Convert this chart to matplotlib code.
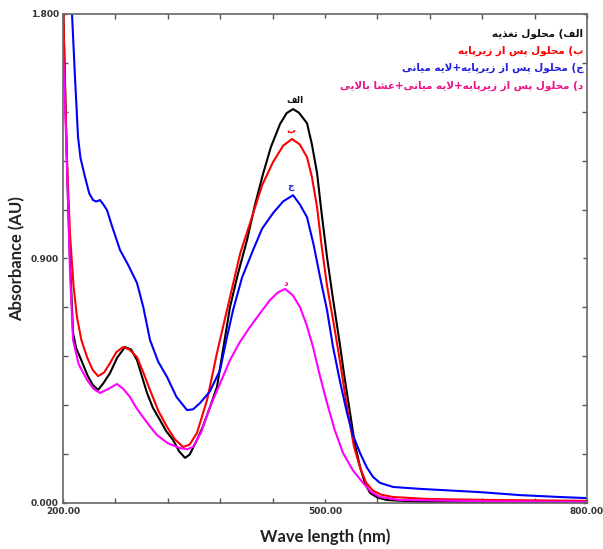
import numpy as np
import matplotlib
matplotlib.use("Agg")
import matplotlib.pyplot as plt
from matplotlib import font_manager
from matplotlib.ft2font import FT2Font

# --- data (wavelength nm, absorbance AU) ---
wl_alef = [200, 203, 205.7, 208, 211.5, 215, 219.5, 228, 234, 240.1, 246, 253.8, 262, 271.0,
           278, 284.7, 290, 296.2, 303, 311.1, 318, 326.0, 333, 339.7, 345, 353.4, 360,
           368.3, 376.3, 384, 391.2, 400, 410.7, 420, 429.0, 438, 448.5, 456, 463.4, 470,
           479.4, 485, 490.9, 496, 502.3, 509.2, 517.2, 522, 528.7, 534, 540.1, 546, 551.6,
           560, 571.0, 608.8, 700, 800]
abs_alef = [1.85, 1.45, 1.115, 0.89, 0.626, 0.57, 0.537, 0.47, 0.435, 0.416, 0.44, 0.478,
            0.535, 0.574, 0.565, 0.526, 0.47, 0.405, 0.35, 0.305, 0.265, 0.232, 0.19, 0.166,
            0.178, 0.232, 0.28, 0.353, 0.427, 0.58, 0.721, 0.84, 0.968, 1.10, 1.211, 1.31,
            1.395, 1.435, 1.450, 1.437, 1.398, 1.32, 1.214, 1.07, 0.905, 0.75, 0.58, 0.47,
            0.331, 0.22, 0.133, 0.07, 0.037, 0.02, 0.011, 0.004, 0.002, 0.001]

wl_be = [200, 204, 208.0, 212, 216.0, 221, 227.5, 234, 240.1, 247, 253.8, 261, 268.7, 276,
         284.7, 292, 299.6, 309, 319.1, 328, 337.4, 345, 353.4, 365, 376.3, 391.2, 403, 414.1,
         428, 440.5, 452, 462.2, 471, 479.4, 485, 490.9, 496, 502.3, 510, 517.2, 522, 526.4,
         533, 540.1, 547, 555.0, 565, 577.9, 616.8, 692.4, 800]
abs_be = [1.85, 1.3, 0.99, 0.80, 0.684, 0.60, 0.537, 0.49, 0.467, 0.48, 0.515, 0.555, 0.574,
          0.565, 0.537, 0.48, 0.416, 0.34, 0.280, 0.235, 0.206, 0.215, 0.258, 0.38, 0.552,
          0.758, 0.92, 1.030, 1.17, 1.255, 1.315, 1.340, 1.32, 1.273, 1.20, 1.089, 0.95, 0.80,
          0.66, 0.52, 0.42, 0.331, 0.21, 0.13, 0.075, 0.045, 0.03, 0.022, 0.015, 0.011, 0.008]

wl_jim = [206, 210.3, 213.7, 217.2, 220, 225.2, 230, 234.4, 238, 242.4, 246, 250.4, 256,
          265.3, 274, 284.7, 292, 299.6, 309, 319.1, 330, 342.0, 349, 356.9, 368, 379.8, 387,
          394.7, 405, 417.6, 428, 440.5, 452, 463.4, 471, 479.4, 487, 494.3, 502.3, 509.2, 517,
          525.2, 532, 540.1, 548, 555.0, 563.0, 577.9, 608.8, 631.7, 677.5, 723.3, 769.1, 800]
abs_jim = [2.2, 1.80, 1.568, 1.347, 1.27, 1.200, 1.14, 1.115, 1.11, 1.115, 1.10, 1.078, 1.02,
           0.931, 0.88, 0.810, 0.72, 0.600, 0.52, 0.464, 0.39, 0.342, 0.345, 0.368, 0.41,
           0.489, 0.60, 0.710, 0.83, 0.931, 1.01, 1.067, 1.11, 1.133, 1.10, 1.052, 0.95, 0.832,
           0.710, 0.574, 0.45, 0.331, 0.25, 0.184, 0.13, 0.096, 0.074, 0.059, 0.052, 0.048,
           0.040, 0.029, 0.022, 0.018]

wl_dal = [200, 203, 205.7, 208, 211.5, 218, 227.5, 235, 242.4, 252, 261.8, 269, 276.7, 284,
          291.6, 300, 307.6, 320, 334.0, 342, 348.9, 358, 368.3, 379.8, 391.2, 402, 414.1, 426,
          437.0, 446, 454.2, 463, 471.4, 479, 486.3, 494, 502.3, 511, 520.6, 532, 543.5, 553,
          563.0, 585.9, 700, 800]
abs_dal = [1.66, 1.4, 1.115, 0.85, 0.600, 0.51, 0.453, 0.42, 0.405, 0.42, 0.438, 0.42, 0.390,
           0.35, 0.316, 0.28, 0.250, 0.22, 0.202, 0.198, 0.206, 0.26, 0.353, 0.44, 0.526, 0.59,
           0.648, 0.70, 0.747, 0.775, 0.788, 0.765, 0.721, 0.655, 0.574, 0.47, 0.368, 0.27,
           0.184, 0.12, 0.074, 0.04, 0.022, 0.011, 0.006, 0.004]

legend_texts = ["الف) محلول تغذیه",
                "ب) محلول پس از زیرپایه",
                "ج) محلول پس از زیرپایه+لایه میانی",
                "د) محلول پس از زیرپایه+لایه میانی+غشا بالایی"]
peak_tags = ["الف", "ب", "ج", "د"]
tag_pos = [(465.7, 1.483), (461.1, 1.373), (461.1, 1.163), (455.4, 0.81)]
line_colors = ["#000000", "#ff0000", "#0000ff", "#ff00ff"]
text_colors = ["#111111", "#ff0000", "#2020e0", "#ee1188"]

# --- small arabic shaper (presentation forms + visual order) ---
FORMS = {
    'ا': ('\uFE8D', '\uFE8E', None, None),
    'ب': ('\uFE8F', '\uFE90', '\uFE91', '\uFE92'),
    'پ': ('\uFB56', '\uFB57', '\uFB58', '\uFB59'),
    'ت': ('\uFE95', '\uFE96', '\uFE97', '\uFE98'),
    'ج': ('\uFE9D', '\uFE9E', '\uFE9F', '\uFEA0'),
    'ح': ('\uFEA1', '\uFEA2', '\uFEA3', '\uFEA4'),
    'د': ('\uFEA9', '\uFEAA', None, None),
    'ذ': ('\uFEAB', '\uFEAC', None, None),
    'ر': ('\uFEAD', '\uFEAE', None, None),
    'ز': ('\uFEAF', '\uFEB0', None, None),
    'س': ('\uFEB1', '\uFEB2', '\uFEB3', '\uFEB4'),
    'ش': ('\uFEB5', '\uFEB6', '\uFEB7', '\uFEB8'),
    'غ': ('\uFECD', '\uFECE', '\uFECF', '\uFED0'),
    'ف': ('\uFED1', '\uFED2', '\uFED3', '\uFED4'),
    'ل': ('\uFEDD', '\uFEDE', '\uFEDF', '\uFEE0'),
    'م': ('\uFEE1', '\uFEE2', '\uFEE3', '\uFEE4'),
    'ن': ('\uFEE5', '\uFEE6', '\uFEE7', '\uFEE8'),
    'ه': ('\uFEE9', '\uFEEA', '\uFEEB', '\uFEEC'),
    'و': ('\uFEED', '\uFEEE', None, None),
    'ی': ('\uFBFC', '\uFBFD', '\uFBFE', '\uFBFF'),
}
MIRROR = {'(': ')', ')': '('}

font_path = font_manager.findfont(font_manager.FontProperties(family="DejaVu Sans", weight="bold"))
charmap = FT2Font(font_path).get_charmap()


def pick(ch, base):
    return ch if (ch is not None and ord(ch) in charmap) else base


def shape(s):
    out = []
    i = 0
    n = len(s)
    while i < n:
        c = s[i]
        if c not in FORMS:
            out.append(MIRROR.get(c, c))
            i += 1
            continue
        prev = s[i - 1] if i > 0 else ''
        joins_prev = prev in FORMS and FORMS[prev][2] is not None
        if c == 'ل' and i + 1 < n and s[i + 1] == 'ا':
            out.append(pick('\uFEFC' if joins_prev else '\uFEFB', 'لا'))
            i += 2
            continue
        nxt = s[i + 1] if i + 1 < n else ''
        joins_next = FORMS[c][2] is not None and nxt in FORMS
        iso, fin, ini, med = FORMS[c]
        if joins_prev and joins_next:
            g = med
        elif joins_prev:
            g = fin
        elif joins_next:
            g = ini
        else:
            g = iso
        out.append(pick(g, c))
        i += 1
    return ''.join(reversed(out))


fig = plt.figure(figsize=(6.03, 5.49), dpi=100)
ax = fig.add_axes([0.1045, 0.0838, 0.869, 0.8907])

series = [(wl_alef, abs_alef), (wl_be, abs_be), (wl_jim, abs_jim), (wl_dal, abs_dal)]
for (w, a), c in zip(series, line_colors):
    ax.plot(w, a, color=c, lw=1.5, solid_joinstyle='round')

ax.set_xlim(200, 800)
ax.set_ylim(0, 1.8)

ax.set_xticks([200, 500, 800])
ax.set_xticklabels(["200.00", "500.00", "800.00"])
ax.set_yticks([0, 0.9, 1.8])
ax.set_yticklabels(["0.000", "0.900", "1.800"])
ax.set_xticks([x for x in range(260, 800, 60) if x != 500], minor=True)
ax.set_yticks([k * 0.18 for k in range(1, 10) if k != 5], minor=True)
ax.tick_params(which='both', direction='in', top=True, right=True, color='#555555')
ax.tick_params(which='major', length=3, width=1, labelsize=6.5, labelcolor='#333333', pad=3)
ax.tick_params(which='minor', length=3.5, width=1)
for lab in ax.get_xticklabels() + ax.get_yticklabels():
    lab.set_fontweight('bold')
for sp in ax.spines.values():
    sp.set_color('#666666')
    sp.set_linewidth(1.2)

ax.set_xlabel("Wave length (nm)", fontsize=12, fontweight='bold', family='Lato', color='#222222')
ax.set_ylabel("Absorbance (AU)", fontsize=12, fontweight='bold', family='Lato', color='#222222')
ax.xaxis.set_label_coords(0.5, -0.052)
ax.yaxis.set_label_coords(-0.072, 0.5)

ys = [0.959, 0.926, 0.890, 0.853]
for t, y, c in zip(legend_texts, ys, text_colors):
    ax.text(0.993, y, shape(t), transform=ax.transAxes, ha='right', va='center',
            fontsize=7.5, fontweight='bold', color=c, family='DejaVu Sans')

for t, (x, y), c in zip(peak_tags, tag_pos, text_colors):
    ax.text(x, y, shape(t), ha='center', va='center', fontsize=6.5, fontweight='bold',
            color=c, family='DejaVu Sans')

fig.savefig("out.png", dpi=100)
